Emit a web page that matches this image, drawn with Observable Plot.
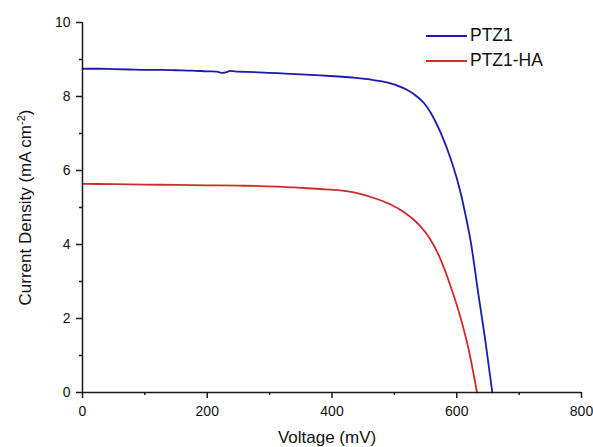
<!DOCTYPE html>
<html>
<head>
<meta charset="utf-8">
<script src="https://cdn.jsdelivr.net/npm/d3@7"></script>
<script src="https://cdn.jsdelivr.net/npm/@observablehq/plot@0.6"></script>
<style>
  html, body { margin: 0; padding: 0; background: #fff; }
  #wrap { position: relative; width: 593px; height: 447px; font-family: "Liberation Sans", Arial, sans-serif; }
  #legend { position: absolute; left: 426px; top: 23px; font-size: 17.5px; color: #111; line-height: 25px; }
  #legend .row { display: flex; align-items: center; height: 25px; }
  #legend .sw { width: 41px; height: 0; border-top: 2px solid; margin-right: 3px; }
</style>
</head>
<body>
<div id="wrap"><div id="legend"></div></div>
<script>
// Series names and colours
const seriesNames = ["PTZ1", "PTZ1-HA"];
const seriesColors = ["#1a1ab2", "#d22a2a"];

// PTZ1 (blue): voltage (mV) and current density (mA cm^-2)
const ptz1V = [0, 25, 50, 75, 100, 125, 150, 175, 200, 215, 225, 231, 237, 250, 275, 300, 325, 350, 381, 410, 435, 461, 488, 510, 531, 547, 558, 574, 590, 606, 614, 622, 635, 646, 657];
const ptz1J = [8.75, 8.75, 8.74, 8.73, 8.72, 8.72, 8.71, 8.70, 8.68, 8.67, 8.64, 8.66, 8.69, 8.67, 8.66, 8.64, 8.62, 8.60, 8.57, 8.54, 8.51, 8.46, 8.38, 8.26, 8.07, 7.83, 7.57, 7.03, 6.33, 5.41, 4.80, 4.12, 2.62, 1.38, 0];

// PTZ1-HA (red)
const ptz1haV = [0, 50, 100, 150, 200, 250, 285, 320, 350, 381, 413, 445, 472, 494, 515, 531, 542, 558, 574, 590, 606, 619, 632.5];
const ptz1haJ = [5.64, 5.63, 5.62, 5.61, 5.60, 5.59, 5.58, 5.56, 5.53, 5.50, 5.46, 5.37, 5.23, 5.08, 4.88, 4.67, 4.49, 4.13, 3.60, 2.88, 2.03, 1.17, 0];

// Axis ticks
const xMajor = [0, 200, 400, 600, 800];
const xMinor = [100, 300, 500, 700];
const yMajor = [0, 2, 4, 6, 8, 10];
const yMinor = [1, 3, 5, 7, 9];
const xLabel = "Voltage (mV)";
const yLabelMain = "Current Density (mA cm";
const yLabelSup = "-2";
const yLabelEnd = ")";
const yLabelFull = yLabelMain + yLabelSup + yLabelEnd;

const rows = [
  ...ptz1V.map((v, i) => ({series: seriesNames[0], V: v, J: ptz1J[i]})),
  ...ptz1haV.map((v, i) => ({series: seriesNames[1], V: v, J: ptz1haJ[i]}))
];

const axisColor = "#1a1a1a";
const plot = Plot.plot({
  width: 593,
  height: 447,
  marginLeft: 82,
  marginRight: 12,
  marginTop: 22,
  marginBottom: 55,
  style: {fontFamily: "'Liberation Sans', Arial, sans-serif", fontSize: "14px", color: "#111", background: "white", overflow: "visible"},
  x: {domain: [0, 800]},
  y: {domain: [0, 10]},
  color: {domain: seriesNames, range: seriesColors},
  marks: [
    Plot.line(rows, {x: "V", y: "J", z: "series", stroke: "series", strokeWidth: 1.8, curve: "monotone-x"}),
    Plot.ruleY([0], {stroke: axisColor, strokeWidth: 1.5}),
    Plot.ruleX([0], {stroke: axisColor, strokeWidth: 1.5}),
    Plot.axisX(xMajor, {tickSize: 6, tickPadding: 8, strokeWidth: 1.5, stroke: axisColor, fontSize: 14, label: null}),
    Plot.axisX(xMinor, {tickSize: 3, tickFormat: () => "", strokeWidth: 1.5, stroke: axisColor, label: null}),
    Plot.axisY(yMajor, {tickSize: 6, tickPadding: 6, strokeWidth: 1.5, stroke: axisColor, fontSize: 14, label: null}),
    Plot.axisY(yMinor, {tickSize: 3, tickFormat: () => "", strokeWidth: 1.5, stroke: axisColor, label: null}),
    Plot.text([xLabel], {frameAnchor: "bottom", dy: 45, dx: -5, fontSize: 17, fill: "#111", lineAnchor: "middle", textAnchor: "middle"}),
    Plot.text([yLabelFull], {frameAnchor: "left", rotate: -90, dx: -57, fontSize: 17, fill: "#111", lineAnchor: "middle", textAnchor: "middle"})
  ]
});

// superscript on y label
d3.select(plot).selectAll("text").filter(function() { return this.textContent === yLabelFull; }).each(function() {
  const t = d3.select(this);
  t.text(null);
  t.append("tspan").text(yLabelMain);
  t.append("tspan").attr("baseline-shift", "super").attr("font-size", 11).text(yLabelSup);
  t.append("tspan").text(yLabelEnd);
});

document.getElementById("wrap").prepend(plot);

// legend
const legend = document.getElementById("legend");
seriesNames.forEach((name, i) => {
  const row = document.createElement("div");
  row.className = "row";
  const sw = document.createElement("span");
  sw.className = "sw";
  sw.style.borderColor = seriesColors[i];
  const label = document.createElement("span");
  label.textContent = name;
  row.appendChild(sw);
  row.appendChild(label);
  legend.appendChild(row);
});
</script>
</body>
</html>
